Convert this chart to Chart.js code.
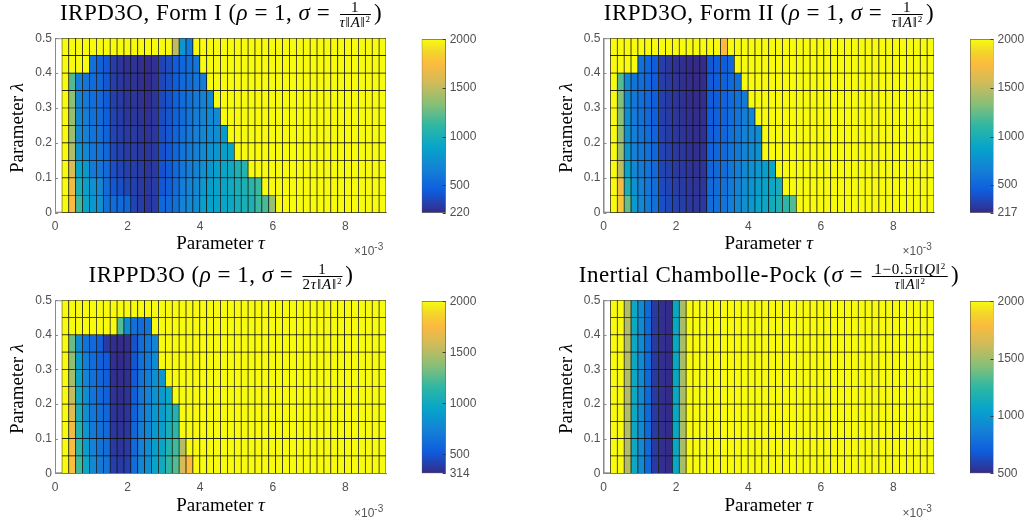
<!DOCTYPE html>
<html><head><meta charset="utf-8">
<script src="https://cdn.jsdelivr.net/npm/chart.js@4.4.0/dist/chart.umd.min.js"></script>
<style>
html,body{margin:0;padding:0;background:#fff;}
body{width:1026px;height:520px;position:relative;overflow:hidden;font-family:"Liberation Serif",serif;color:#000;}
canvas{position:absolute;z-index:1;}
.title{position:absolute;z-index:2;white-space:nowrap;font-size:23px;line-height:23px;letter-spacing:0.5px;transform:translateX(-50%);}
.frac{display:inline-flex;flex-direction:column;align-items:center;vertical-align:8px;font-size:15px;line-height:14px;letter-spacing:0.8px;margin:0 3px;}
.frac .num{border-bottom:1px solid #000;padding:0 2px 0 2px;align-self:stretch;text-align:center;}
.frac sup{font-size:9px;line-height:9px;vertical-align:5px;}
.ylab{position:absolute;z-index:2;font-size:19px;white-space:nowrap;transform:translate(-50%,-50%) rotate(-90deg);}
.xlab{position:absolute;z-index:2;font-size:19px;white-space:nowrap;transform:translate(-50%,-50%);}
.exp{position:absolute;z-index:2;font-family:"Liberation Sans",sans-serif;font-size:12px;color:#555;white-space:nowrap;}
.exp sup{font-size:10px;vertical-align:5px;}
</style></head><body>

<div class="title" style="left:221px;top:0px">IRPD3O, Form I (<i>ρ</i> = 1, <i>σ</i> = <span class="frac"><span class="num">1</span><span><i>τ</i>‖<i>A</i>‖<sup>2</sup></span></span>)</div>
<div class="title" style="left:769px;top:0px">IRPD3O, Form II (<i>ρ</i> = 1, <i>σ</i> = <span class="frac"><span class="num">1</span><span><i>τ</i>‖<i>A</i>‖<sup>2</sup></span></span>)</div>
<div class="title" style="left:221px;top:262px">IRPPD3O (<i>ρ</i> = 1, <i>σ</i> = <span class="frac"><span class="num">1</span><span>2<i>τ</i>‖<i>A</i>‖<sup>2</sup></span></span>)</div>
<div class="title" style="left:769px;top:262px">Inertial Chambolle-Pock (<i>σ</i> = <span class="frac"><span class="num">1−0.5<i>τ</i>‖<i>Q</i>‖<sup>2</sup></span><span><i>τ</i>‖<i>A</i>‖<sup>2</sup></span></span>)</div>

<div class="ylab" style="left:17px;top:128px">Parameter <i>λ</i></div>
<div class="ylab" style="left:565.5px;top:128px">Parameter <i>λ</i></div>
<div class="ylab" style="left:17px;top:389px">Parameter <i>λ</i></div>
<div class="ylab" style="left:565.5px;top:389px">Parameter <i>λ</i></div>

<div class="xlab" style="left:220.5px;top:243px">Parameter <i>τ</i></div>
<div class="xlab" style="left:768.7px;top:243px">Parameter <i>τ</i></div>
<div class="xlab" style="left:220.5px;top:505px">Parameter <i>τ</i></div>
<div class="xlab" style="left:768.7px;top:505px">Parameter <i>τ</i></div>

<div class="exp" style="left:354px;top:241px">×10<sup>-3</sup></div>
<div class="exp" style="left:902.5px;top:241px">×10<sup>-3</sup></div>
<div class="exp" style="left:354px;top:503px">×10<sup>-3</sup></div>
<div class="exp" style="left:902.5px;top:503px">×10<sup>-3</sup></div>

<script>
// ---------------- data ----------------
const S = 2000; // saturated value (colour-axis maximum)

const tauEdges = [0.19,0.38,0.57,0.76,0.95,1.14,1.33,1.52,1.71,1.90,2.09,2.28,2.47,2.66,2.85,3.04,3.23,3.42,3.61,3.80,3.99,4.18,4.37,4.56,4.75,4.94,5.13,5.32,5.51,5.70,5.89,6.08,6.27,6.46,6.65,6.84,7.03,7.22,7.41,7.60,7.79,7.98,8.17,8.36,8.55,8.74,8.93,9.12];
const lambdaEdges = [0,0.05,0.1,0.15,0.2,0.25,0.3,0.35,0.4,0.45,0.5];
const xTicks = [0,2,4,6,8];
const yTicks = [0,0.1,0.2,0.3,0.4,0.5];

const cbTicksI   = [220,500,1000,1500,2000];
const cbTicksII  = [217,500,1000,1500,2000];
const cbTicksPPD = [314,500,1000,1500,2000];
const cbTicksCP  = [500,1000,1500,2000];

// rows from lambda = 0 (bottom) upward; columns follow tauEdges
const formI = [
 [S,1750,1150,900,800,760,560,540,520,500,330,300,280,300,500,520,560,680,700,720,860,870,880,900,920,980,1000,1020,1150,1180,1380, S,S,S,S,S,S,S,S,S,S, S,S,S,S,S,S],
 [S,1700,1000,860,760,700,540,420,380,350,320,290,280,300,420,460,540,640,680,700,820,850,880,900,950,990,1020,1080,1140, S,S,S,S,S,S,S,S,S,S, S,S,S,S,S,S,S,S],
 [S,1600,880,820,620,600,520,380,340,320,310,290,270,290,400,440,520,600,640,680,760,800,860,900,940,1020,1060, S,S,S,S,S,S,S,S,S,S, S,S,S,S,S,S,S,S,S,S],
 [S,1450,780,700,600,580,500,350,320,300,300,280,270,290,390,430,500,580,620,660,720,760,800,860,900, S,S,S,S,S,S,S,S,S,S, S,S,S,S,S,S,S,S,S,S, S,S],
 [S,1400,720,660,580,560,480,340,310,290,290,270,260,280,380,420,490,560,600,660,700,720,740,820, S,S,S,S,S,S,S,S,S,S, S,S,S,S,S,S,S,S,S,S, S,S,S],
 [S,1380,700,640,560,540,460,330,300,280,280,260,250,280,370,410,480,540,580,640,680,700,720, S,S,S,S,S,S,S,S,S,S, S,S,S,S,S,S,S,S,S,S, S,S,S,S],
 [S,1350,680,620,550,520,440,320,290,270,270,250,240,270,360,400,470,530,560,620,660,700, S,S,S,S,S,S,S,S,S,S, S,S,S,S,S,S,S,S,S,S, S,S,S,S,S],
 [S,1200,660,600,540,500,420,310,280,260,260,240,230,260,350,390,460,520,540,600,640, S,S,S,S,S,S,S,S,S,S, S,S,S,S,S,S,S,S,S,S, S,S,S,S,S,S],
 [S,S,S,S,560,480,420,300,270,250,260,240,230,250,330,370,450,500,540,600, S,S,S,S,S,S,S,S,S,S, S,S,S,S,S,S,S,S,S,S, S,S,S,S,S,S,S],
 [S,S,S,S,S,S,S,S,S,S, S,S,S,S,S,S,1500,800,620, S,S,S,S,S,S,S,S,S,S, S,S,S,S,S,S,S,S,S,S, S,S,S,S,S,S,S,S]
];

const formII = [
 [S,1800,1250,820,700,620,560,380,350,320,300,280,270,280,540,560,580,640,700,760,800,880,920,960,1020,1100,1200, S,S,S,S,S,S,S,S,S,S, S,S,S,S,S,S,S,S,S,S],
 [S,1700,1000,760,660,600,540,360,330,300,290,270,260,270,520,540,560,620,680,740,780,840,880,920,980, S,S,S,S,S,S,S,S,S,S, S,S,S,S,S,S,S,S,S,S, S,S],
 [S,1500,880,700,620,580,520,340,310,290,280,260,250,260,500,520,540,600,650,700,760,800,860,900, S,S,S,S,S,S,S,S,S,S, S,S,S,S,S,S,S,S,S,S, S,S,S],
 [S,1400,800,660,600,560,500,330,300,280,270,250,240,250,480,500,520,580,620,680,720,760, S,S,S,S,S,S,S,S,S,S, S,S,S,S,S,S,S,S,S,S, S,S,S,S,S],
 [S,1380,760,640,580,540,480,320,295,275,260,245,235,245,460,480,500,560,600,660,700,740, S,S,S,S,S,S,S,S,S,S, S,S,S,S,S,S,S,S,S,S, S,S,S,S,S],
 [S,1350,740,620,560,520,460,315,290,270,255,240,230,240,450,470,490,540,580,640,680, S,S,S,S,S,S,S,S,S,S, S,S,S,S,S,S,S,S,S,S, S,S,S,S,S,S],
 [S,1320,720,600,550,510,450,310,285,265,250,235,225,235,440,460,480,530,570,620, S,S,S,S,S,S,S,S,S,S, S,S,S,S,S,S,S,S,S,S, S,S,S,S,S,S,S],
 [S,1200,700,580,540,500,440,300,280,260,245,230,220,230,430,450,470,520,560, S,S,S,S,S,S,S,S,S,S, S,S,S,S,S,S,S,S,S,S, S,S,S,S,S,S,S,S],
 [S,S,S,S,560,500,440,300,270,250,240,225,217,225,420,440,460,500, S,S,S,S,S,S,S,S,S,S, S,S,S,S,S,S,S,S,S,S, S,S,S,S,S,S,S,S,S],
 [S,S,S,S,S,S,S,S,S,S, S,S,S,S,S,S,1750, S,S,S,S,S,S,S,S,S,S, S,S,S,S,S,S,S,S,S,S, S,S,S,S,S,S,S,S,S,S]
];

const irppd3o = [
 [S,1780,1200,980,780,700,660,400,380,400,620,760,820,960,1000,1150,1250,1600,1760, S,S,S,S,S,S,S,S,S,S, S,S,S,S,S,S,S,S,S,S, S,S,S,S,S,S,S,S],
 [S,1750,1150,900,740,660,620,380,360,380,600,740,800,920,960,1100,1200,1500, S,S,S,S,S,S,S,S,S,S, S,S,S,S,S,S,S,S,S,S, S,S,S,S,S,S,S,S,S],
 [S,1720,1100,860,700,640,600,370,350,370,580,720,780,880,920,1050,1150, S,S,S,S,S,S,S,S,S,S, S,S,S,S,S,S,S,S,S,S, S,S,S,S,S,S,S,S,S,S],
 [S,1650,1050,820,680,620,580,360,340,360,560,700,760,860,900,1000,1100, S,S,S,S,S,S,S,S,S,S, S,S,S,S,S,S,S,S,S,S, S,S,S,S,S,S,S,S,S,S],
 [S,1550,1000,800,660,600,560,350,330,350,540,680,740,840,880,980, S,S,S,S,S,S,S,S,S,S, S,S,S,S,S,S,S,S,S,S, S,S,S,S,S,S,S,S,S,S, S],
 [S,1450,950,760,640,580,540,340,325,340,520,660,720,820,860, S,S,S,S,S,S,S,S,S,S, S,S,S,S,S,S,S,S,S,S, S,S,S,S,S,S,S,S,S,S, S,S],
 [S,1400,900,720,620,560,520,335,320,335,500,640,700,800, S,S,S,S,S,S,S,S,S,S, S,S,S,S,S,S,S,S,S,S, S,S,S,S,S,S,S,S,S,S, S,S,S],
 [S,1300,800,660,600,540,380,330,314,330,480,620,680,760, S,S,S,S,S,S,S,S,S,S, S,S,S,S,S,S,S,S,S,S, S,S,S,S,S,S,S,S,S,S, S,S,S],
 [S,S,S,S,S,S,S,S,1250,800,640,620,660, S,S,S,S,S,S,S,S,S,S, S,S,S,S,S,S,S,S,S,S, S,S,S,S,S,S,S,S,S,S, S,S,S,S],
 [S,S,S,S,S,S,S,S,S,S, S,S,S,S,S,S,S,S,S,S, S,S,S,S,S,S,S,S,S,S, S,S,S,S,S,S,S,S,S,S, S,S,S,S,S,S,S]
];

const inertialCP = [
 [S,S,1550,1100,920,760,560,520,500,1080,1520, S,S,S,S,S,S,S,S,S,S, S,S,S,S,S,S,S,S,S,S, S,S,S,S,S,S,S,S,S,S, S,S,S,S,S,S],
 [S,S,1550,1100,920,760,560,520,500,1080,1520, S,S,S,S,S,S,S,S,S,S, S,S,S,S,S,S,S,S,S,S, S,S,S,S,S,S,S,S,S,S, S,S,S,S,S,S],
 [S,S,1550,1100,920,760,560,520,500,1080,1520, S,S,S,S,S,S,S,S,S,S, S,S,S,S,S,S,S,S,S,S, S,S,S,S,S,S,S,S,S,S, S,S,S,S,S,S],
 [S,S,1550,1100,920,760,560,520,500,1080,1520, S,S,S,S,S,S,S,S,S,S, S,S,S,S,S,S,S,S,S,S, S,S,S,S,S,S,S,S,S,S, S,S,S,S,S,S],
 [S,S,1550,1100,920,760,560,520,500,1080,1520, S,S,S,S,S,S,S,S,S,S, S,S,S,S,S,S,S,S,S,S, S,S,S,S,S,S,S,S,S,S, S,S,S,S,S,S],
 [S,S,1550,1100,920,760,560,520,500,1080,1520, S,S,S,S,S,S,S,S,S,S, S,S,S,S,S,S,S,S,S,S, S,S,S,S,S,S,S,S,S,S, S,S,S,S,S,S],
 [S,S,1550,1100,920,760,560,520,500,1080,1520, S,S,S,S,S,S,S,S,S,S, S,S,S,S,S,S,S,S,S,S, S,S,S,S,S,S,S,S,S,S, S,S,S,S,S,S],
 [S,S,1550,1100,920,760,560,520,500,1080,1520, S,S,S,S,S,S,S,S,S,S, S,S,S,S,S,S,S,S,S,S, S,S,S,S,S,S,S,S,S,S, S,S,S,S,S,S],
 [S,S,1550,1100,920,760,560,520,500,1080,1520, S,S,S,S,S,S,S,S,S,S, S,S,S,S,S,S,S,S,S,S, S,S,S,S,S,S,S,S,S,S, S,S,S,S,S,S],
 [S,S,1550,1100,920,760,560,520,500,1080,1520, S,S,S,S,S,S,S,S,S,S, S,S,S,S,S,S,S,S,S,S, S,S,S,S,S,S,S,S,S,S, S,S,S,S,S,S]
];

// ---------------- colour map (parula) ----------------
const parulaStops = [
 [0,'#352a87'],[0.125,'#0f5cdd'],[0.25,'#1481d6'],[0.375,'#06a4ca'],[0.5,'#2eb7a4'],
 [0.625,'#87bf77'],[0.75,'#d1bb59'],[0.86,'#fcbb3e'],[0.93,'#f2d72a'],[1,'#f9fb0e']
];
function hexRgb(h){return [parseInt(h.slice(1,3),16),parseInt(h.slice(3,5),16),parseInt(h.slice(5,7),16)];}
function parula(t){
  if(!isFinite(t)) return '#ff00ff';
  t=Math.max(0,Math.min(1,t));
  for(let i=1;i<parulaStops.length;i++){
    const [t1,c1]=parulaStops[i];
    if(t<=t1){
      const [t0,c0]=parulaStops[i-1];
      const f=(t-t0)/(t1-t0), a=hexRgb(c0), b=hexRgb(c1);
      return 'rgb('+a.map((v,k)=>Math.round(v+(b[k]-v)*f)).join(',')+')';
    }
  }
  return parulaStops[parulaStops.length-1][1];
}

// ---------------- layout ----------------
const panels = [
 {vals:formI,     vmin:220, cbTicks:cbTicksI,   x0:55,    x1:386, y0:36.7,  y1:212.7, c0:421.7, c1:445.7},
 {vals:formII,    vmin:217, cbTicks:cbTicksII,  x0:603.5, x1:934, y0:36.7,  y1:212.7, c0:970,   c1:993.5},
 {vals:irppd3o,   vmin:314, cbTicks:cbTicksPPD, x0:55,    x1:386, y0:298.3, y1:473.3, c0:421.7, c1:445.7},
 {vals:inertialCP,vmin:500, cbTicks:cbTicksCP,  x0:603.5, x1:934, y0:298.3, y1:473.3, c0:970,   c1:993.5}
];
const VMAX = 2000;
const tickFont = {family:'"Liberation Sans", Arial, sans-serif', size:12};
const tickColor = '#505050';

const boxPlugin = {
  id:'box',
  beforeDatasetsDraw(chart){
    const {ctx, chartArea:a, scales} = chart;
    ctx.save();
    ctx.strokeStyle = '#8a8a8a'; ctx.lineWidth = 1;
    ctx.strokeRect(a.left+0.5, a.top+0.5, a.right-a.left-1, a.bottom-a.top-1);
    ctx.beginPath();
    yTicks.forEach(v=>{ const y = Math.round(scales.y.getPixelForValue(v))+0.5; ctx.moveTo(a.left, y); ctx.lineTo(a.left+3, y); });
    ctx.stroke();
    ctx.restore();
  }
};
const cbTickPlugin = {
  id:'cbticks',
  afterDatasetsDraw(chart){
    const {ctx, chartArea:a, scales} = chart;
    ctx.save();
    ctx.strokeStyle = '#3c3c3c'; ctx.lineWidth = 1;
    ctx.beginPath();
    scales.y.ticks.forEach(t=>{ const y = Math.round(scales.y.getPixelForValue(t.value))+0.5; ctx.moveTo(a.right-3, y); ctx.lineTo(a.right, y); });
    ctx.stroke();
    ctx.restore();
  }
};

function mkCanvas(left, top, w, h){
  const c = document.createElement('canvas');
  c.width = w; c.height = h;
  c.style.left = left+'px'; c.style.top = top+'px';
  c.style.width = w+'px'; c.style.height = h+'px';
  document.body.appendChild(c);
  return c;
}

panels.forEach(p=>{
  // ---- heat map ----
  const L = Math.floor(p.x0) - 52, T = Math.floor(p.y0) - 8;
  const W = Math.ceil(p.x1) - L + 6, H = Math.ceil(p.y1) - T + 30;
  const yAxisW = p.x0 - L, xAxisH = T + H - p.y1;
  const cv = mkCanvas(L, T, W, H);
  const centers = tauEdges.slice(0,-1).map((e,i)=>(e+tauEdges[i+1])/2);
  const datasets = p.vals.map((row, r)=>({
    data: centers.map((c,i)=>({x:c, y:[lambdaEdges[r], lambdaEdges[r+1]]})),
    backgroundColor: ctx => parula((row[ctx.dataIndex]-p.vmin)/(VMAX-p.vmin)),
    borderColor:'#101010', borderWidth:0.7, borderSkipped:false,
    grouped:false, barPercentage:1, categoryPercentage:1
  }));
  new Chart(cv, {
    type:'bar',
    data:{datasets},
    options:{
      responsive:false, animation:false, devicePixelRatio:1,
      layout:{padding:{top:p.y0 - T, right: L + W - p.x1, left:0, bottom:0}},
      plugins:{legend:{display:false}, tooltip:{enabled:false}},
      scales:{
        x:{type:'linear', min:0, max:tauEdges[tauEdges.length-1], offset:false,
           grid:{display:false, drawTicks:false}, border:{display:true, color:'#8a8a8a'},
           ticks:{font:tickFont, color:tickColor, padding:7, maxRotation:0, callback:v=>String(v)},
           afterBuildTicks:s=>{ s.ticks = xTicks.map(v=>({value:v})); },
           afterFit:s=>{ s.height = xAxisH; }},
        y:{type:'linear', min:0, max:0.5,
           grid:{display:false, drawTicks:false}, border:{display:true, color:'#8a8a8a'},
           ticks:{font:tickFont, color:tickColor, padding:3, callback:v=>String(v)},
           afterBuildTicks:s=>{ s.ticks = yTicks.map(v=>({value:v})); },
           afterFit:s=>{ s.width = yAxisW; }}
      }
    },
    plugins:[boxPlugin]
  });

  // ---- colour bar ----
  const CL = Math.floor(p.c0) - 4;
  const CW = Math.min(1026, Math.ceil(p.c1) + 34) - CL;
  const cbAxisW = CL + CW - p.c1;
  const cc = mkCanvas(CL, T, CW, H);
  new Chart(cc, {
    type:'bar',
    data:{labels:['c'], datasets:[{
      data:[[p.vmin, VMAX]],
      backgroundColor: ctx => {
        const a = ctx.chart.chartArea; if(!a) return '#888';
        const g = ctx.chart.ctx.createLinearGradient(0, a.bottom, 0, a.top);
        parulaStops.forEach(([t,c])=>g.addColorStop(t,c));
        return g;
      },
      borderColor:'#3c3c3c', borderWidth:0.8, borderSkipped:false,
      barPercentage:1, categoryPercentage:1
    }]},
    options:{
      responsive:false, animation:false, devicePixelRatio:1,
      layout:{padding:{top:p.y0 - T, left:p.c0 - CL, bottom:T + H - p.y1, right:0}},
      plugins:{legend:{display:false}, tooltip:{enabled:false}},
      scales:{
        x:{display:false, offset:true},
        y:{position:'right', min:p.vmin, max:VMAX,
           grid:{display:false, drawTicks:false}, border:{display:false},
           ticks:{font:tickFont, color:tickColor, padding:4, callback:v=>String(v)},
           afterBuildTicks:s=>{ s.ticks = p.cbTicks.map(v=>({value:v})); },
           afterFit:s=>{ s.width = cbAxisW; }}
      }
    },
    plugins:[cbTickPlugin]
  });
});
</script>
</body></html>
